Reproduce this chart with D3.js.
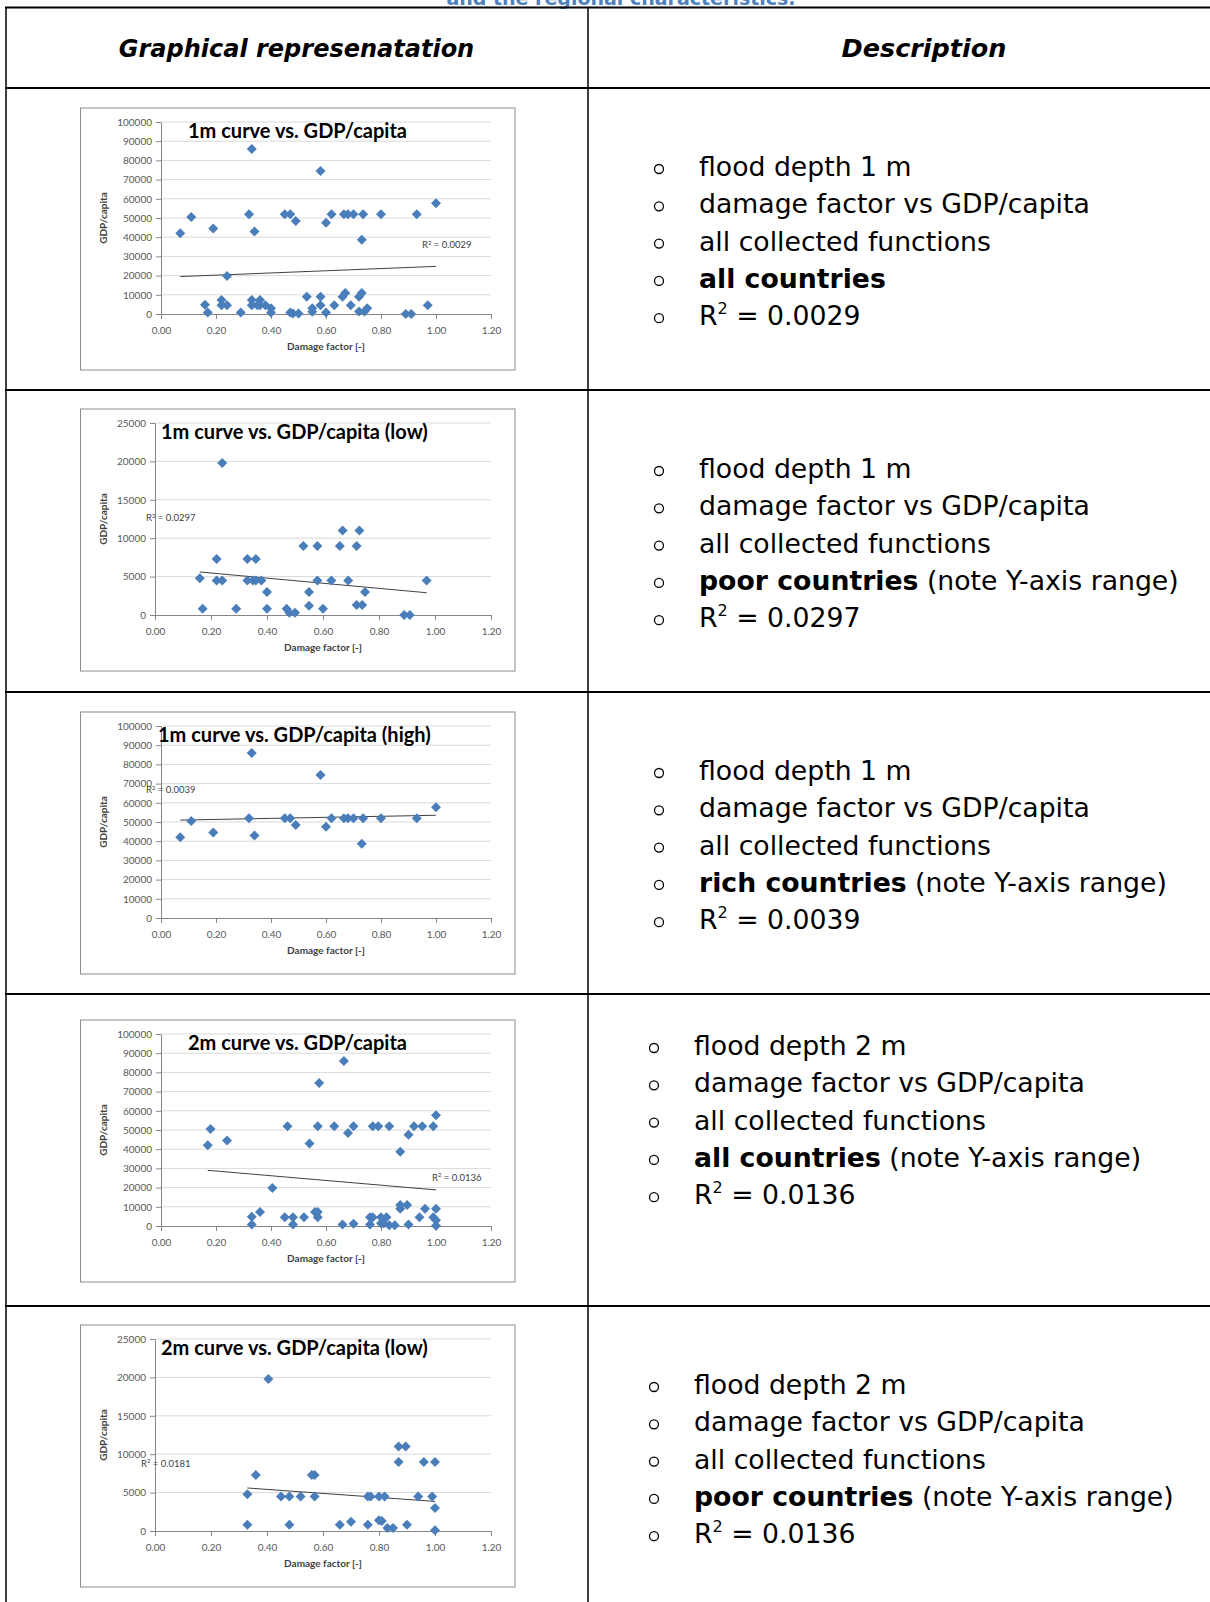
<!DOCTYPE html>
<html>
<head>
<meta charset="utf-8">
<script src="https://cdn.jsdelivr.net/npm/d3@7"></script>
<style>
  body { margin: 0; background: #fff; }
  svg { display: block; }
</style>
</head>
<body>
<svg width="1210" height="1602"></svg>
<script>
// ---- data ----
const xTicks = [0, 0.2, 0.4, 0.6, 0.8, 1.0, 1.2]
const yTicksAll = [0, 10000, 20000, 30000, 40000, 50000, 60000, 70000, 80000, 90000, 100000]
const yTicksLow = [0, 5000, 10000, 15000, 20000, 25000]

// 1 m flood depth, [damage factor, GDP/capita]
const depth1Low = [
  [0.16, 4800], [0.17, 800], [0.22, 7300], [0.22, 4500], [0.24, 19800], [0.24, 4500],
  [0.29, 800], [0.33, 7300], [0.33, 4500], [0.35, 4500], [0.36, 7300], [0.36, 4500],
  [0.38, 4500], [0.40, 3000], [0.40, 800], [0.47, 800], [0.48, 300], [0.50, 300],
  [0.53, 9000], [0.55, 3000], [0.55, 1200], [0.58, 9000], [0.58, 4500], [0.60, 800],
  [0.63, 4500], [0.66, 9000], [0.67, 11000], [0.69, 4500], [0.72, 9000], [0.73, 11000],
  [0.72, 1300], [0.74, 1300], [0.75, 3000], [0.89, 0], [0.91, 0], [0.97, 4500]
]
const depth1High = [
  [0.07, 42000], [0.11, 50500], [0.19, 44500], [0.32, 52000], [0.33, 86000], [0.34, 43000],
  [0.45, 52000], [0.47, 52000], [0.49, 48500], [0.58, 74500], [0.60, 47500], [0.62, 52000],
  [0.665, 52000], [0.68, 52000], [0.70, 52000], [0.73, 38700], [0.735, 52000], [0.80, 52000],
  [0.93, 52000], [1.00, 57700]
]
// 2 m flood depth
const depth2Low = [
  [0.33, 4800], [0.33, 800], [0.36, 7300], [0.405, 19800], [0.45, 4500], [0.48, 4500],
  [0.48, 800], [0.52, 4500], [0.56, 7300], [0.57, 7300], [0.57, 4500], [0.66, 800],
  [0.70, 1200], [0.76, 800], [0.76, 4500], [0.77, 4500], [0.80, 4500], [0.80, 1400],
  [0.81, 1300], [0.82, 4500], [0.83, 400], [0.85, 400], [0.87, 9000], [0.87, 11000],
  [0.895, 11000], [0.90, 800], [0.94, 4500], [0.96, 9000], [0.99, 4500], [1.00, 9000],
  [1.00, 3000], [1.00, 100]
]
const depth2High = [
  [0.17, 42000], [0.18, 50500], [0.24, 44500], [0.46, 52000], [0.54, 43000], [0.57, 52000],
  [0.575, 74500], [0.63, 52000], [0.665, 86000], [0.68, 48500], [0.70, 52000], [0.77, 52000],
  [0.79, 52000], [0.83, 52000], [0.87, 38700], [0.90, 47500], [0.92, 52000], [0.95, 52000],
  [0.99, 52000], [1.00, 57700]
]

// linear trendlines (end points)
const trend1All = [[0.07, 19500], [1.00, 24800]]
const trend1Low = [[0.16, 5600], [0.97, 2900]]
const trend1High = [[0.07, 51000], [1.00, 53500]]
const trend2All = [[0.17, 29000], [1.00, 18800]]
const trend2Low = [[0.33, 5600], [1.00, 3850]]

const r2Values = ['0.0029', '0.0297', '0.0039', '0.0136', '0.0181']
const chartTitles = [
  '1m curve vs. GDP/capita',
  '1m curve vs. GDP/capita (low)',
  '1m curve vs. GDP/capita (high)',
  '2m curve vs. GDP/capita',
  '2m curve vs. GDP/capita (low)'
]

const descLines = [
  [[['flood depth 1 m']], [['damage factor vs GDP/capita']], [['all collected functions']],
   [['all countries', true]], 'R2:0.0029'],
  [[['flood depth 1 m']], [['damage factor vs GDP/capita']], [['all collected functions']],
   [['poor countries', true], [' (note Y-axis range)']], 'R2:0.0297'],
  [[['flood depth 1 m']], [['damage factor vs GDP/capita']], [['all collected functions']],
   [['rich countries', true], [' (note Y-axis range)']], 'R2:0.0039'],
  [[['flood depth 2 m']], [['damage factor vs GDP/capita']], [['all collected functions']],
   [['all countries', true], [' (note Y-axis range)']], 'R2:0.0136'],
  [[['flood depth 2 m']], [['damage factor vs GDP/capita']], [['all collected functions']],
   [['poor countries', true], [' (note Y-axis range)']], 'R2:0.0136']
]

// ---- layout ----
const svg = d3.select('svg')
const boxX = 80.5, boxW = 434.5, boxH = 262
const plotRight = 410.5, plotTop = 14, plotBottom = 206
const rowLines = [7.5, 88, 390, 692, 994, 1306]

const charts = [
  {top: 108, left: 80.5, data: depth1Low.concat(depth1High), trend: trend1All, yTicks: yTicksAll, titleX: 107.5, r2X: 341.5, r2Y: 140},
  {top: 409, left: 74.5, data: depth1Low, trend: trend1Low, yTicks: yTicksLow, titleX: 80.5, r2X: 65.5, r2Y: 112},
  {top: 712, left: 80.5, data: depth1High, trend: trend1High, yTicks: yTicksAll, titleX: 77.5, r2X: 65.5, r2Y: 81},
  {top: 1020, left: 80.5, data: depth2Low.concat(depth2High), trend: trend2All, yTicks: yTicksAll, titleX: 107.5, r2X: 351.5, r2Y: 160.5},
  {top: 1325, left: 74.5, data: depth2Low, trend: trend2Low, yTicks: yTicksLow, titleX: 80.5, r2X: 60.5, r2Y: 141.5}
]

// blue heading cut off at the top
svg.append('text')
  .attr('x', 621).attr('y', 5)
  .attr('text-anchor', 'middle')
  .attr('font-family', 'DejaVu Sans').attr('font-weight', 'bold').attr('font-size', 19)
  .attr('fill', '#4f81bd')
  .text('and the regional characteristics.')

// table grid
svg.append('g').selectAll('line').data(rowLines).join('line')
  .attr('x1', 5).attr('x2', 1210).attr('y1', d => d).attr('y2', d => d)
  .attr('stroke', '#000').attr('stroke-width', 2)
svg.append('g').selectAll('line').data([6, 588]).join('line')
  .attr('x1', d => d).attr('x2', d => d).attr('y1', 7).attr('y2', 1602)
  .attr('stroke', '#000').attr('stroke-width', 1.5)

// header
const header = svg.append('g')
  .attr('font-family', 'DejaVu Sans').attr('font-weight', 'bold').attr('font-style', 'italic')
  .attr('text-anchor', 'middle')
header.append('text').attr('x', 296.5).attr('y', 57).attr('font-size', 24).text('Graphical represenatation')
header.append('text').attr('x', 924).attr('y', 57).attr('font-size', 25.5).text('Description')

const diamond = d3.symbol(d3.symbolSquare, 50)

function drawChart(c, i) {
  const g = svg.append('g').attr('transform', `translate(${boxX}, ${c.top})`)
  g.append('rect').attr('width', boxW).attr('height', boxH)
    .attr('fill', '#fff').attr('stroke', '#8c8c8c').attr('stroke-width', 1)

  const x = d3.scaleLinear().domain([0, 1.2]).range([c.left, plotRight])
  const y = d3.scaleLinear().domain([0, c.yTicks[c.yTicks.length - 1]]).range([plotBottom, plotTop])

  g.append('g').selectAll('line').data(c.yTicks.slice(1)).join('line')
    .attr('x1', c.left).attr('x2', plotRight)
    .attr('y1', d => y(d)).attr('y2', d => y(d))
    .attr('stroke', '#d9d9d9').attr('stroke-width', 1)

  const yAxis = d3.axisLeft(y).tickValues(c.yTicks).tickSize(5).tickSizeOuter(0)
    .tickPadding(4).tickFormat(d3.format('d'))
  const xAxis = d3.axisBottom(x).tickValues(xTicks).tickSize(5).tickSizeOuter(0)
    .tickPadding(7.5).tickFormat(d3.format('.2f'))

  const ya = g.append('g').attr('transform', `translate(${c.left},0)`).call(yAxis)
  const xa = g.append('g').attr('transform', `translate(0,${y(0)})`).call(xAxis)
  for (const a of [ya, xa]) {
    a.select('.domain').attr('stroke', '#868686')
    a.selectAll('.tick line').attr('stroke', '#868686')
    a.selectAll('.tick text').attr('fill', '#595959')
      .attr('font-family', 'Lato').attr('font-size', 10)
  }

  // axis titles
  g.append('text')
    .attr('transform', `translate(26, ${(plotTop + plotBottom) / 2}) rotate(-90)`)
    .attr('text-anchor', 'middle')
    .attr('font-family', 'Lato').attr('font-weight', 'bold').attr('font-size', 10)
    .attr('fill', '#404040')
    .text('GDP/capita')
  g.append('text')
    .attr('x', (c.left + plotRight) / 2).attr('y', 242)
    .attr('text-anchor', 'middle')
    .attr('font-family', 'Lato').attr('font-weight', 'bold').attr('font-size', 10)
    .attr('fill', '#404040')
    .text('Damage factor [-]')

  // trendline
  g.append('line')
    .attr('x1', x(c.trend[0][0])).attr('y1', y(c.trend[0][1]))
    .attr('x2', x(c.trend[1][0])).attr('y2', y(c.trend[1][1]))
    .attr('stroke', '#404040').attr('stroke-width', 1)

  // points
  g.append('g').selectAll('path').data(c.data).join('path')
    .attr('d', diamond)
    .attr('transform', d => `translate(${x(d[0])},${y(d[1])}) rotate(45)`)
    .attr('fill', '#4a7ebb')

  // R squared label
  const r2 = g.append('text')
    .attr('x', c.r2X).attr('y', c.r2Y)
    .attr('font-family', 'Lato').attr('font-size', 9.5).attr('fill', '#404040')
  r2.append('tspan').text('R')
  r2.append('tspan').attr('font-size', 6).attr('dy', -3.5).text('2')
  r2.append('tspan').attr('dy', 3.5).text(' = ' + r2Values[i])

  // chart title
  g.append('text')
    .attr('x', c.titleX).attr('y', 30)
    .attr('font-family', 'Lato').attr('font-weight', 'bold').attr('font-size', 20)
    .attr('fill', '#000')
    .text(chartTitles[i])
}

charts.forEach(drawChart)

// description column
const rowBaselines = [176, 478, 780, 1055, 1394]
const lineGap = 37.3

descLines.forEach((lines, r) => {
  const textX = r < 3 ? 699 : 694
  const bulletX = r < 3 ? 659 : 654
  lines.forEach((segs, k) => {
    const by = rowBaselines[r] + k * lineGap
    svg.append('circle')
      .attr('cx', bulletX).attr('cy', by - 7).attr('r', 4.5)
      .attr('fill', 'none').attr('stroke', '#000').attr('stroke-width', 1.3)
    const t = svg.append('text')
      .attr('x', textX).attr('y', by)
      .attr('font-family', 'DejaVu Sans').attr('font-size', 26.7).attr('fill', '#000')
    if (typeof segs === 'string') {
      t.append('tspan').text('R')
      t.append('tspan').attr('font-size', 16).attr('dy', -11).text('2')
      t.append('tspan').attr('dy', 11).text(' = ' + segs.split(':')[1])
    } else {
      segs.forEach(s => {
        t.append('tspan').attr('font-weight', s[1] ? 'bold' : 'normal').text(s[0])
      })
    }
  })
})
</script>
</body>
</html>
